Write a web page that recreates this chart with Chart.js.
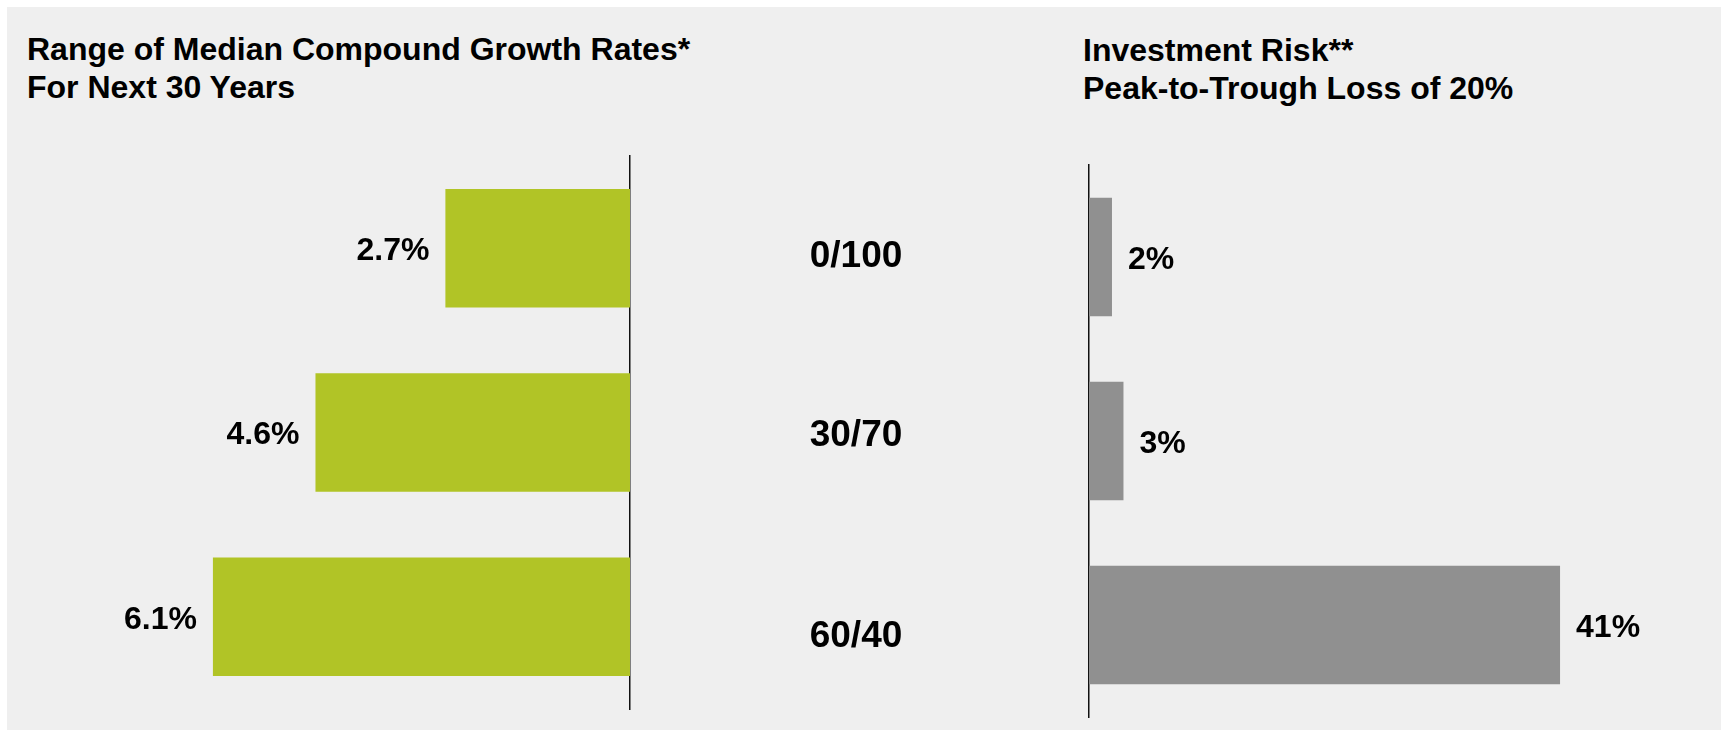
<!DOCTYPE html>
<html>
<head>
<meta charset="utf-8">
<script src="https://cdn.jsdelivr.net/npm/chart.js@4.4.1/dist/chart.umd.min.js"></script>
<style>
  html, body { margin: 0; padding: 0; background: #ffffff; width: 1721px; height: 730px; overflow: hidden; }
  #panel { position: absolute; left: 7px; top: 7px; width: 1714px; height: 723px; background: #efefef; }
  canvas { position: absolute; top: 0; }
  #growthChart { left: 0; }
  #riskChart { left: 700px; }
  .title { position: absolute; font-family: "Liberation Sans", Arial, Helvetica, sans-serif; font-weight: bold;
           font-size: 32px; line-height: 38px; color: #000; white-space: nowrap; }
</style>
</head>
<body>
<div id="panel"></div>
<div id="growthTitle" class="title" style="left:27px; top:30px;"></div>
<div id="riskTitle" class="title" style="left:1083px; top:30.5px;"></div>
<canvas id="growthChart" width="700" height="730"></canvas>
<canvas id="riskChart" width="1021" height="730"></canvas>
<script>
// ---- data ----
const categories   = ['0/100', '30/70', '60/40'];
const growthRates  = [2.7, 4.6, 6.1];
const growthLabels = ['2.7%', '4.6%', '6.1%'];
const riskLoss     = [2, 3, 41];
const riskLabels   = ['2%', '3%', '41%'];
const growthTitle  = ['Range of Median Compound Growth Rates*', 'For Next 30 Years'];
const riskTitle    = ['Investment Risk**', 'Peak-to-Trough Loss of 20%'];
const growthAxisMax = 8;
const riskAxisMax   = 45;

document.getElementById('growthTitle').innerHTML = growthTitle.join('<br>');
document.getElementById('riskTitle').innerHTML = riskTitle.join('<br>');

const FONT = '"Liberation Sans", Arial, Helvetica, sans-serif';

const valueLabels = {
  id: 'valueLabels',
  afterDatasetsDraw(chart, args, opts) {
    const ctx = chart.ctx;
    const meta = chart.getDatasetMeta(0);
    ctx.save();
    ctx.font = opts.font;
    ctx.fillStyle = opts.color;
    ctx.textBaseline = 'middle';
    meta.data.forEach((bar, i) => {
      const dir = bar.x < bar.base ? -1 : 1;
      ctx.textAlign = dir < 0 ? 'right' : 'left';
      ctx.fillText(opts.labels[i], bar.x + dir * opts.gap, bar.y + opts.dy);
    });
    ctx.restore();
  }
};

const categoryLabels = {
  id: 'categoryLabels',
  afterDraw(chart, args, opts) {
    const ctx = chart.ctx;
    const yScale = chart.scales.y;
    ctx.save();
    ctx.font = opts.font;
    ctx.fillStyle = opts.color;
    ctx.textAlign = 'center';
    ctx.textBaseline = 'middle';
    yScale.getLabels().forEach((lab, i) => {
      ctx.fillText(lab, opts.x, yScale.getPixelForValue(i) + (opts.nudge[i] || 0));
    });
    ctx.restore();
  }
};

function baseOptions(padding, reverse, max, position) {
  return {
    indexAxis: 'y',
    responsive: false,
    animation: false,
    events: [],
    layout: { padding: padding },
    plugins: { legend: { display: false }, tooltip: { enabled: false } },
    scales: {
      x: { display: false, min: 0, max: max, reverse: reverse },
      y: {
        position: position,
        offset: true,
        grid: { display: false, drawTicks: false },
        ticks: { display: false },
        border: { display: true, color: '#111111', width: 1.5 }
      }
    }
  };
}

const gOpts = baseOptions({ left: 83, right: 70, top: 156, bottom: 21 }, true, growthAxisMax, 'right');
gOpts.plugins.valueLabels = { labels: growthLabels, font: 'bold 32px ' + FONT, color: '#000', gap: 16, dy: 3 };

new Chart(document.getElementById('growthChart'), {
  type: 'bar',
  data: {
    labels: categories,
    datasets: [{
      data: growthRates,
      backgroundColor: '#b1c426',
      borderWidth: 0,
      categoryPercentage: 1,
      barPercentage: 0.643
    }]
  },
  options: gOpts,
  plugins: [valueLabels]
});

const rOpts = baseOptions({ left: 389, right: 115, top: 165, bottom: 13 }, false, riskAxisMax, 'left');
rOpts.plugins.valueLabels = { labels: riskLabels, font: 'bold 32px ' + FONT, color: '#000', gap: 16, dy: 3.5 };
rOpts.plugins.categoryLabels = { font: 'bold 37px ' + FONT, color: '#000', x: 156, nudge: [0, -5.5, 12] };

new Chart(document.getElementById('riskChart'), {
  type: 'bar',
  data: {
    labels: categories,
    datasets: [{
      data: riskLoss,
      backgroundColor: '#909090',
      borderWidth: 0,
      categoryPercentage: 1,
      barPercentage: 0.643
    }]
  },
  options: rOpts,
  plugins: [valueLabels, categoryLabels]
});
</script>
</body>
</html>
